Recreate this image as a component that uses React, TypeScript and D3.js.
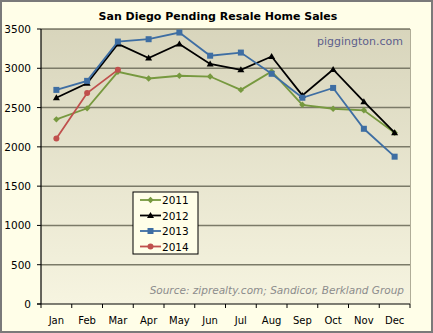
import React from "react";
import * as d3 from "d3";

const months = ["Jan","Feb","Mar","Apr","May","Jun","Jul","Aug","Sep","Oct","Nov","Dec"];
const yTicks = [0, 500, 1000, 1500, 2000, 2500, 3000, 3500];
const s2011 = [2350, 2490, 2955, 2870, 2905, 2895, 2725, 2960, 2535, 2485, 2465, 2180];
const s2012 = [2625, 2810, 3310, 3130, 3310, 3055, 2980, 3150, 2655, 2985, 2575, 2180];
const s2013 = [2725, 2840, 3340, 3370, 3455, 3160, 3200, 2930, 2625, 2750, 2230, 1875];
const s2014 = [2105, 2685, 2980];
const seriesNames = ["2011", "2012", "2013", "2014"];

const W = 433, H = 333;
const L = 41, R = 410, T = 29, B = 304;

export default function App() {
  const x = d3.scaleBand<string>().domain(months).range([L, R]);
  const y = d3.scaleLinear().domain([0, 3500]).range([B, T]);
  const cx = (i: number) => (x(months[i]) as number) + x.bandwidth() / 2;
  const line = d3.line<number>().x((_, i) => cx(i)).y((d) => y(d));
  const series = [
    { name: seriesNames[0], data: s2011, color: "#77993f", marker: "diamond" },
    { name: seriesNames[1], data: s2012, color: "#000000", marker: "triangle" },
    { name: seriesNames[2], data: s2013, color: "#3e6ea3", marker: "square" },
    { name: seriesNames[3], data: s2014, color: "#c0504d", marker: "circle" },
  ];
  const marker = (m: string, px: number, py: number, c: string, key: any) => {
    if (m === "diamond") return <path key={key} d={`M${px},${py - 3.2}L${px + 3.2},${py}L${px},${py + 3.2}L${px - 3.2},${py}Z`} fill={c} />;
    if (m === "triangle") return <path key={key} d={`M${px},${py - 3.5}L${px + 3.5},${py + 2.5}L${px - 3.5},${py + 2.5}Z`} fill={c} />;
    if (m === "square") return <rect key={key} x={px - 3} y={py - 3} width={6} height={6} fill={c} />;
    return <circle key={key} cx={px} cy={py} r={3} fill={c} />;
  };
  const font = "Verdana, 'DejaVu Sans', sans-serif";
  return (
    <svg width={W} height={H} style={{ position: "absolute", left: 0, top: 0 }} fontFamily={font}>
      <defs>
        <linearGradient id="pg" x1="0" y1="0" x2="0" y2="1">
          <stop offset="0" stopColor="#d8d5bc" />
          <stop offset="1" stopColor="#f6f4e0" />
        </linearGradient>
      </defs>
      <rect x={1} y={1} width={W - 2} height={H - 2} fill="#fffee8" stroke="#7a7a7a" strokeWidth={2} />
      <rect x={L} y={T} width={R - L} height={B - T} fill="url(#pg)" />
      <line x1={R + 0.5} x2={R + 0.5} y1={T} y2={B} stroke="#b0ad98" strokeWidth={1} />
      <line x1={L} x2={R} y1={T + 0.5} y2={T + 0.5} stroke="#b0ad98" strokeWidth={1} />
      {yTicks.slice(1).map((t) => (
        <line key={t} x1={L} x2={R} y1={y(t)} y2={y(t)} stroke="#7b7a68" strokeWidth={1.5} />
      ))}
      <text x={218} y={20} textAnchor="middle" fontSize={11} fontWeight="bold" fill="#000">San Diego Pending Resale Home Sales</text>
      <text x={403} y={45} textAnchor="end" fontSize={11} fill="#5d5f8c">piggington.com</text>
      <text x={404} y={294} textAnchor="end" fontSize={10.5} fontStyle="italic" fill="#8c8c8c">Source: ziprealty.com; Sandicor, Berkland Group</text>
      <line x1={L} x2={L} y1={T} y2={B} stroke="#000" strokeWidth={1.2} />
      <line x1={L - 4} x2={R} y1={B} y2={B} stroke="#000" strokeWidth={1.2} />
      {yTicks.map((t) => (
        <g key={t}>
          <line x1={L - 4} x2={L} y1={y(t)} y2={y(t)} stroke="#000" />
          <text x={31} y={y(t) + 4} textAnchor="end" fontSize={10.5} fill="#000">{t}</text>
        </g>
      ))}
      {months.map((m, i) => (
        <g key={m}>
          <line x1={(x(m) as number) + x.bandwidth()} x2={(x(m) as number) + x.bandwidth()} y1={B} y2={B + 4} stroke="#000" />
          <text x={cx(i)} y={324} textAnchor="middle" fontSize={10} fill="#000">{m}</text>
        </g>
      ))}
      <line x1={L} x2={L} y1={B} y2={B + 4} stroke="#000" />
      {series.map((s) => (
        <g key={s.name}>
          <path d={line(s.data) as string} fill="none" stroke={s.color} strokeWidth={1.8} />
          {s.data.map((v, i) => marker(s.marker, cx(i), y(v), s.color, i))}
        </g>
      ))}
      <rect x={133} y={192} width={65} height={62} fill="#fffee8" stroke="#000" strokeWidth={1} />
      {series.map((s, i) => {
        const ly = 200 + i * 15.5;
        return (
          <g key={s.name}>
            <line x1={140} x2={161} y1={ly} y2={ly} stroke={s.color} strokeWidth={1.8} />
            {marker(s.marker, 150.5, ly, s.color, "m")}
            <text x={162} y={ly + 4} fontSize={10.5} fill="#000">{s.name}</text>
          </g>
        );
      })}
    </svg>
  );
}
